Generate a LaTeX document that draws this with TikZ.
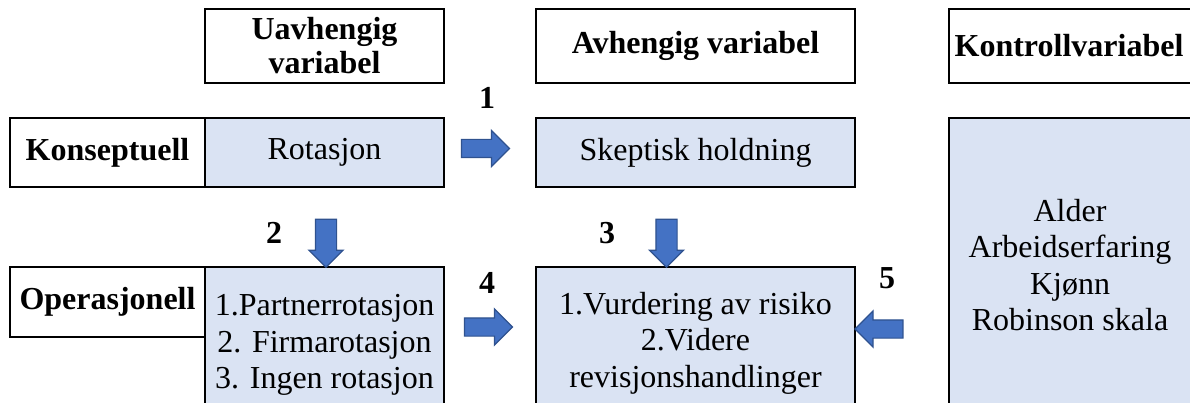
\documentclass[tikz,border=0pt]{standalone}
\usepackage{fontspec}
\setmainfont{Liberation Serif}
\usetikzlibrary{shapes.arrows}
\definecolor{boxblue}{HTML}{DAE3F3}
\definecolor{arrowfill}{HTML}{4472C4}
\definecolor{arrowline}{HTML}{2F528F}
\tikzset{
  frame/.style={draw=black, line width=2.2pt, inner sep=0pt, outer sep=0pt},
  plainbox/.style={frame, fill=white},
  bluebox/.style={frame, fill=boxblue},
  txt/.style={font=\fontsize{32}{36.5}\selectfont, align=center, inner sep=0pt},
  btxt/.style={font=\fontsize{32}{34}\selectfont\bfseries, align=center, inner sep=0pt},
  blockarrow/.style={single arrow, fill=arrowfill, draw=arrowline, line width=1.2pt,
    minimum height=48pt, inner sep=8.5pt, single arrow head extend=9pt},
  downarrow/.style={single arrow, fill=arrowfill, draw=arrowline, line width=1.2pt,
    minimum height=48pt, inner sep=10pt, single arrow head extend=6.5pt,
    shape border rotate=270},
}
\begin{document}
\begin{tikzpicture}[x=1pt,y=-1pt]
\useasboundingbox (0,0) rectangle (1190,403);
% header boxes
\node[plainbox, minimum width=239pt, minimum height=74pt] (uhead) at (324.5,46) {};
\node[btxt] (uheadtxt) at (uhead.center) {Uavhengig\\variabel};
\node[plainbox, minimum width=319pt, minimum height=74pt] (ahead) at (695.5,46) {};
\node[btxt] (aheadtxt) at (ahead.center) {Avhengig variabel};
\node[plainbox, minimum width=242pt, minimum height=74pt] (khead) at (1070,46) {};
\node[btxt] (kheadtxt) at (1069,46) {Kontrollvariabel};
% conceptual row
\node[plainbox, minimum width=195pt, minimum height=69pt] (konlabel) at (107.5,152.5) {};
\node[btxt] (konlabeltxt) at (konlabel.center) {Konseptuell};
\node[bluebox, minimum width=239pt, minimum height=69pt] (rot) at (324.5,152.5) {};
\node[txt] (rottxt) at (rot.center) {Rotasjon};
\node[bluebox, minimum width=319pt, minimum height=69pt] (skep) at (695.5,152.5) {};
\node[txt] (skeptxt) at (skep.center) {Skeptisk holdning};
% control body
\node[bluebox, minimum width=242pt, minimum height=302pt] (kbody) at (1070,269) {};
\node[txt] (kbodytxt) at (1070,265) {Alder\\Arbeidserfaring\\Kjønn\\Robinson skala};
% operational row
\node[plainbox, minimum width=195pt, minimum height=70pt] (oplabel) at (107.5,302) {};
\node[btxt] (oplabeltxt) at (oplabel.center) {Operasjonell};
\node[bluebox, minimum width=239pt, minimum height=153pt] (opbox) at (324.5,343.5) {};
\node[txt] (opboxtxt) at (324.5,345) {1.Partnerrotasjon\\2. Firmarotasjon\\3. Ingen rotasjon};
\node[bluebox, minimum width=319pt, minimum height=153pt] (vurd) at (695.5,343.5) {};
\node[txt] (vurdtxt) at (695.5,343) {1.Vurdering av risiko\\2.Videre\\revisjonshandlinger};
% block arrows
\node[blockarrow] (a1) at (481,148.5) {};
\node[blockarrow] (a4) at (484,327) {};
\node[blockarrow, shape border rotate=180] (a5) at (883.5,329) {};
\node[downarrow] (a2) at (326,238) {};
\node[downarrow] (a3) at (666.5,238) {};
% numbers
\node[btxt] (n1) at (487,98) {1};
\node[btxt] (n2) at (274,233) {2};
\node[btxt] (n3) at (607,233) {3};
\node[btxt] (n4) at (487,283) {4};
\node[btxt] (n5) at (887,278) {5};
\end{tikzpicture}
\end{document}
